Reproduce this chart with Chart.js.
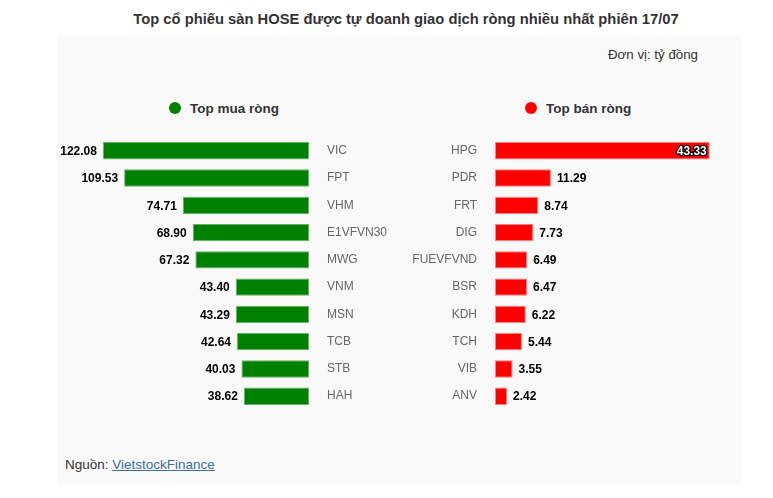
<!DOCTYPE html>
<html>
<head>
<meta charset="utf-8">
<script src="https://cdn.jsdelivr.net/npm/chart.js@4"></script>
<style>
  body { margin: 0; background: #fff; font-family: "Liberation Sans", Arial, sans-serif; width: 773px; height: 498px; position: relative; overflow: hidden; }
  .title { position: absolute; left: 0; width: 812px; top: 11px; text-align: center; font-weight: bold; font-size: 14.75px; color: #333; }
  .panel { position: absolute; left: 57px; top: 35px; width: 685px; height: 450px; background: #f9f9f9; }
  .unit { position: absolute; right: 75px; top: 47px; font-size: 13.3px; color: #333; }
  .legend { position: absolute; top: 101px; font-size: 13.5px; font-weight: bold; color: #333; }
  .legend i { display: inline-block; width: 12px; height: 12px; border-radius: 50%; vertical-align: -1px; margin-right: 9px; }
  .source { position: absolute; left: 65px; top: 457px; font-size: 13.5px; color: #333; }
  .source a { color: #3a6fa0; text-decoration: underline; }
  canvas { position: absolute; }
</style>
</head>
<body>
<div class="title">Top cổ phiếu sàn HOSE được tự doanh giao dịch ròng nhiều nhất phiên 17/07</div>
<div class="panel"></div>
<div class="unit">Đơn vị: tỷ đồng</div>
<div class="legend" style="left:169px"><i style="background:#008000"></i>Top mua ròng</div>
<div class="legend" style="left:525px"><i style="background:#ff0000"></i>Top bán ròng</div>
<canvas id="buy" width="343" height="323" style="left:57px; top:112px"></canvas>
<canvas id="sell" width="350" height="323" style="left:400px; top:112px"></canvas>
<div class="source">Nguồn: <a href="#">VietstockFinance</a></div>
<script>
const buyLabels = ["VIC", "FPT", "VHM", "E1VFVN30", "MWG", "VNM", "MSN", "TCB", "STB", "HAH"];
const buyValues = [122.08, 109.53, 74.71, 68.90, 67.32, 43.40, 43.29, 42.64, 40.03, 38.62];
const sellLabels = ["HPG", "PDR", "FRT", "DIG", "FUEVFVND", "BSR", "KDH", "TCH", "VIB", "ANV"];
const sellValues = [43.33, 11.29, 8.74, 7.73, 6.49, 6.47, 6.22, 5.44, 3.55, 2.42];

// value labels next to the bars, moved inside when they leave the plot area
const valueLabels = {
  id: "valueLabels",
  afterDatasetsDraw(chart) {
    const ctx = chart.ctx;
    const area = chart.chartArea;
    const meta = chart.getDatasetMeta(0);
    const data = chart.data.datasets[0].data;
    const dir = chart.options.scales.x.reverse ? -1 : 1;
    ctx.save();
    ctx.font = "bold 12px 'Liberation Sans', Arial, sans-serif";
    ctx.textBaseline = "middle";
    meta.data.forEach((bar, i) => {
      const text = data[i].toFixed(2);
      const w = ctx.measureText(text).width;
      let x = bar.x + dir * 6;
      const outside = dir > 0 ? x + w > area.right : x - w < area.left;
      if (outside) {
        x = bar.x - dir * 3;
        ctx.textAlign = dir > 0 ? "right" : "left";
        ctx.lineWidth = 2.5;
        ctx.lineJoin = "round";
        ctx.strokeStyle = "#000";
        ctx.strokeText(text, x, bar.y + 1);
        ctx.fillStyle = "#fff";
        ctx.fillText(text, x, bar.y + 1);
      } else {
        ctx.textAlign = dir > 0 ? "left" : "right";
        ctx.fillStyle = "#000";
        ctx.fillText(text, x, bar.y + 1);
      }
    });
    ctx.restore();
  }
};

const makeChart = (id, labels, values, color, border, reverse, max, axisWidth, padding) => {
  return new Chart(document.getElementById(id).getContext("2d"), {
    type: "bar",
    data: {
      labels: labels,
      datasets: [
        {
          data: values,
          backgroundColor: color,
          borderColor: border,
          borderWidth: 1,
          borderSkipped: false,
          categoryPercentage: 1,
          barPercentage: 0.64,
        },
      ],
    },
    options: {
      indexAxis: "y",
      responsive: false,
      animation: false,
      devicePixelRatio: 1,
      layout: { padding: padding },
      plugins: {
        legend: { display: false },
        tooltip: { enabled: false },
      },
      scales: {
        x: {
          display: false,
          reverse: reverse,
          min: 0,
          max: max,
        },
        y: {
          position: reverse ? "right" : "left",
          grid: { display: false, drawTicks: false },
          border: { display: false },
          afterFit: (scale) => { scale.width = axisWidth; },
          ticks: {
            padding: 18,
            color: "#666",
            font: { family: "'Liberation Sans', Arial, sans-serif", size: 12 },
          },
        },
      },
    },
    plugins: [valueLabels],
  });
};

makeChart("buy", buyLabels, buyValues, "#008000", "#66b366", true, 149.3, 91, { left: 0, right: 0, top: 0, bottom: 0 });
makeChart("sell", sellLabels, sellValues, "#ff0000", "#ff8080", false, 45.4, 95, { left: 0, right: 30, top: 0, bottom: 0 });
</script>
</body>
</html>
